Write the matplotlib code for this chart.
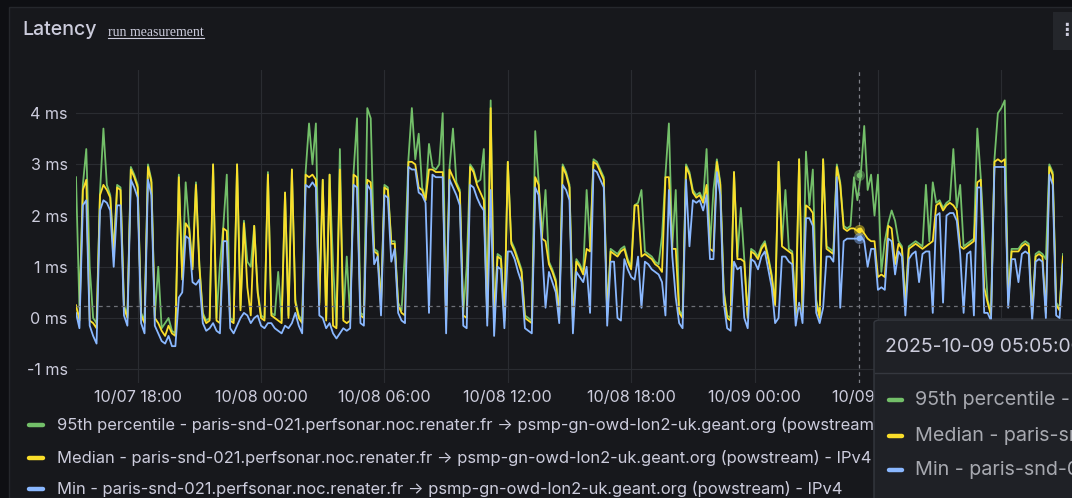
import matplotlib
matplotlib.use("Agg")
import matplotlib.pyplot as plt
import matplotlib.dates as mdates
from matplotlib.patches import FancyBboxPatch, Rectangle
from matplotlib.lines import Line2D
import pandas as pd

# ---------------- data (ms), 10-minute samples from 2025-10-07 15:00 ----------------
start_time = "2025-10-07 15:00"
step = "10min"

median = [
    0.25, -0.05, 2.5, 2.7, -0.05, -0.1, -0.2, 2.4, 2.6, 2.5,
    2.35, 1.2, 2.55, 2.5, 0.2, 0.0, 2.9, 2.75, 2.55, 0.05,
    -0.1, 2.95, 2.65, 0.0, -0.1, -0.25, -0.35, -0.15, -0.3, -0.35,
    2.75, 0.75, 1.85, 1.75, 0.95, 2.6, 1.0, 0.05, -0.1, -0.05,
    3.0, -0.05, -0.1, 1.75, 1.7, -0.05, -0.1, 3.0, 0.15, 1.85,
    0.6, 0.05, 1.8, 0.5, 0.0, -0.05, 2.8,
    0.05, 0.0, -0.05, -0.1, 2.45, 0.0, 2.9, 0.3, 0.0, -0.1,
    2.8, 2.75, 2.8, 2.7, 0.25, 2.7, -0.05, 2.8, -0.15, -0.2,
    2.9, -0.05, -0.1, -0.05, 2.8, 2.75, 0.05, 0.0, 2.7, 2.65,
    1.3, 1.25, 0.25, 2.55, 2.5, 1.45, 1.45, 0.25, 0.1, 0.05,
    3.05, 3.05, 3.0, 2.55, 2.5, 2.3, 2.9, 2.9, 2.85, 2.85,
    2.85, -0.05, 2.9, 2.75, 2.6, 2.45, 0.05, 0.0,
    2.95, 2.85, 2.6, 2.45, 2.3, 0.0, 4.1, -0.1, 1.2, 1.15,
    -0.05, 3.05, 1.45, 1.3, 1.1, 0.9, 0.0, -0.05, -0.1, 2.75,
    2.6, 1.55, 1.5, 1.05, 0.9, 0.7, 0.05, 2.95, 2.8, 2.55,
    -0.1, 1.1, 1.0, 0.85, 1.35, 1.3, 3.05, 3.0, 2.85, 2.7,
    0.05, 1.3, 1.25, 1.2, 1.3, 1.35, 1.1, 0.95, 2.2, 2.2,
    1.2, 1.25, 1.2, 1.15, 1.05, 1.0, 0.9, 2.75,
    2.75, 1.35, 1.35, 0.1, 0.0, 2.95, 2.8, 2.45, 2.35, 2.4,
    2.25, 2.6, 1.35, 1.3, 3.05, 2.6, 0.5, 0.0, -0.05, 2.85,
    1.15, 1.15, 1.1, 0.0, 1.3, 1.25, 1.15, 1.35, 1.45, 1.15,
    0.8, 0.25, 3.05, 1.4, 1.35, 1.3, 1.25, 0.05, 3.1, 0.1,
    2.2, 2.15, 2.05, 0.3, 0.0, 3.1, 1.35, 1.3, 1.25, 2.95,
    2.6, 1.75, 1.7, 1.75, 1.75, 1.7, 1.75, 1.65, 1.55,
    1.5, 1.5, 0.8, 0.85, 0.8, 1.8, 1.75, 1.05, 1.45, 1.35,
    0.25, 1.35, 1.4, 1.45, 1.4, 1.35, 1.4, 1.45, 1.5, 2.2,
    2.25, 2.1, 2.2, 2.25, 2.2, 2.1, 1.4, 1.35, 1.4, 1.45,
    1.5, 2.65, 2.7, 0.6, 0.3, 0.05, 3.05, 3.1, 3.05, 3.1,
    0.3, 1.3, 1.3, 1.3, 1.4, 1.45, 1.4, 0.05, 1.2, 1.25,
    1.2, 0.1, 2.95, 2.8, 0.25, 0.15, 1.2,
]

minimum = [
    0.1, -0.2, 2.2, 2.3, -0.15, -0.35, -0.5, 2.1, 2.3, 2.25,
    2.1, 1.0, 2.2, 2.2, 0.05, -0.15, 2.7, 2.55, 2.35, -0.1,
    -0.3, 2.7, 2.4, -0.15, -0.3, -0.45, -0.5, -0.35, -0.55, -0.55,
    0.4, 0.5, 1.6, 1.55, 0.7, 0.65, 0.75, -0.1, -0.25, -0.2,
    -0.1, -0.25, -0.3, 1.5, 1.5, -0.2, -0.3, -0.15, 0.0, 0.1,
    0.05, -0.1, 0.0, 0.05, -0.15, -0.2, -0.1,
    -0.1, -0.2, -0.25, -0.3, -0.15, -0.2, -0.1, 0.1, -0.15, -0.3,
    2.6, 2.55, 2.65, 2.55, 0.05, 0.0, -0.2, -0.1, -0.3, -0.4,
    -0.3, -0.2, -0.25, -0.2, 2.6, 2.55, -0.1, -0.15, 2.6, 2.5,
    1.05, 1.2, 0.05, 2.4, 2.35, 1.1, 1.35, 0.1, -0.05, -0.1,
    2.95, 2.9, 2.9, 2.45, 2.4, 2.25, 0.1, 2.8, 2.75, 2.75,
    2.75, -0.3, 2.7, 2.55, 2.4, 2.2, -0.15, -0.2,
    2.6, 2.55, 2.35, 2.2, 2.1, -0.15, 2.5, -0.35, 1.0, 0.95,
    -0.2, 1.3, 1.3, 1.15, 0.9, 0.7, -0.2, -0.25, -0.3, 2.55,
    2.4, 1.35, 0.2, 0.9, 0.7, 0.5, -0.1, 2.6, 2.5, 2.3,
    -0.3, 0.9, 0.8, 0.7, 1.0, 0.1, 2.9, 2.85, 2.7, 2.55,
    -0.15, 1.1, 1.1, 0.0, -0.05, 1.15, 0.95, 0.8, 0.75, 1.2,
    0.2, 1.1, 1.05, 0.95, 0.9, 0.85, 0.7, 0.05,
    2.5, 1.2, 0.4, -0.1, -0.2, 2.7, 1.4, 2.3, 2.25, 2.3,
    2.1, 2.4, 1.15, 1.15, 2.85, 2.4, 0.3, -0.2, -0.25, 1.1,
    0.95, 1.0, 0.0, -0.2, 1.15, 1.1, 0.95, 1.2, 1.3, 0.95,
    0.6, -0.1, 0.0, 1.2, 1.2, 1.1, 1.05, -0.15, 0.3, -0.1,
    1.95, 1.95, 1.8, 0.1, -0.1, 0.2, 1.2, 1.2, 1.1, 2.75,
    0.2, 1.5, 1.55, 1.55, 1.55, 1.55, 1.6, 1.5, 1.0,
    1.35, 1.35, 0.55, 0.6, 0.55, 1.55, 1.5, 0.85, 1.3, 1.2,
    0.05, 1.15, 1.25, 1.3, 0.7, 1.25, 1.3, 1.3, 0.1, 2.0,
    2.05, 0.3, 2.0, 2.05, 2.05, 1.9, 1.25, 0.1, 1.25, 1.3,
    0.05, 2.55, 2.55, 0.1, 0.1, -0.05, 2.95, 2.95, 2.95, 2.95,
    0.2, 1.15, 1.15, 0.7, 1.25, 1.3, 1.25, -0.05, 1.1, 1.15,
    1.1, 0.0, 2.8, 2.6, 0.05, 0.0, 1.05,
]

p95 = [
    2.75, 0.2, 2.6, 3.3, 1.0, 0.0, -0.1, 2.45, 3.7, 2.6,
    2.4, 1.3, 2.6, 2.55, 0.25, 0.05, 2.95, 2.8, 2.6, 0.1,
    -0.05, 3.0, 2.7, 0.05, 1.0, -0.2, -0.1, 0.0, -0.25, -0.3,
    2.8, 0.8, 2.65, 1.8, 1.0, 2.65, 1.05, 0.1, -0.05, 0.0,
    3.0, 0.0, 1.05, 1.8, 2.8, 0.0, -0.05, 3.0, 0.2, 1.9,
    1.1, 1.0, 1.8, 0.55, 0.05, 0.0, 2.85,
    0.1, 0.05, 0.9, -0.05, 2.45, 0.05, 2.9, 0.35, 0.05, -0.05,
    2.85, 3.8, 3.0, 3.8, 0.3, 2.7, 0.0, 2.8, 1.05, -0.15,
    3.3, 0.0, 1.2, 0.0, 2.85, 3.9, 0.1, 0.05, 4.1, 3.9,
    1.35, 1.3, 0.3, 2.6, 2.55, 1.5, 1.5, 0.3, 0.15, 1.3,
    3.1, 4.1, 3.1, 3.6, 2.55, 2.35, 3.4, 2.95, 2.9, 3.0,
    4.0, 0.0, 2.95, 3.7, 2.65, 2.5, 0.1, 1.0,
    3.0, 2.9, 2.65, 2.7, 3.3, 0.05, 4.25, -0.05, 1.25, 1.2,
    0.0, 3.05, 1.5, 1.35, 1.15, 0.95, 0.05, 0.0, -0.05, 3.65,
    2.65, 1.6, 2.5, 1.1, 0.95, 0.75, 0.1, 3.0, 2.85, 2.6,
    -0.05, 1.15, 1.05, 0.9, 2.5, 1.4, 3.1, 3.05, 2.9, 2.75,
    0.1, 1.35, 1.3, 1.25, 1.35, 1.4, 1.15, 1.0, 2.2, 2.25,
    2.5, 1.3, 1.25, 1.2, 1.1, 1.05, 1.6, 2.8,
    3.8, 1.4, 2.5, 0.15, 0.05, 3.0, 2.85, 2.5, 2.4, 2.45,
    2.3, 3.3, 1.4, 2.5, 3.1, 2.65, 0.55, 0.05, 0.0, 2.85,
    1.2, 2.15, 1.15, 0.05, 1.35, 1.3, 1.2, 1.4, 1.5, 1.2,
    0.85, 0.3, 3.05, 1.45, 2.5, 1.35, 1.3, 0.1, 3.1, 0.15,
    3.25, 2.2, 2.9, 0.35, 0.05, 3.1, 1.4, 1.35, 1.3, 3.0,
    2.65, 1.8, 1.75, 1.8, 2.75, 2.3, 2.8, 3.75, 2.5,
    2.8, 2.0, 2.8, 0.9, 1.5, 1.85, 2.1, 1.9, 1.5, 1.4,
    0.3, 1.4, 1.45, 1.5, 1.45, 1.4, 2.6, 1.5, 2.65, 2.25,
    2.3, 2.15, 2.25, 2.3, 3.3, 2.15, 2.6, 1.4, 1.45, 1.5,
    1.55, 3.7, 2.75, 1.5, 0.35, 0.1, 3.1, 4.0, 4.1, 4.25,
    0.35, 1.35, 1.35, 1.35, 1.45, 1.5, 1.45, 0.1, 1.25, 1.3,
    1.25, 1.15, 3.0, 2.85, 0.3, 0.2, 1.25,
]

series_names = [
    "95th percentile - paris-snd-021.perfsonar.noc.renater.fr \u2192 psmp-gn-owd-lon2-uk.geant.org (powstream) - IPv4",
    "Median - paris-snd-021.perfsonar.noc.renater.fr \u2192 psmp-gn-owd-lon2-uk.geant.org (powstream) - IPv4",
    "Min - paris-snd-021.perfsonar.noc.renater.fr \u2192 psmp-gn-owd-lon2-uk.geant.org (powstream) - IPv4",
]
tooltip_names = ["95th percentile - paris-snd-021", "Median - paris-snd-021", "Min - paris-snd-021"]
y_ticks = [-1, 0, 1, 2, 3, 4]
y_tick_labels = ["-1 ms", "0 ms", "1 ms", "2 ms", "3 ms", "4 ms"]
hover_time = "2025-10-09 05:05"
hover_label = "2025-10-09 05:05:00"
hover_values = [2.79, 1.72, 1.57]
crosshair_value = 0.23

# ---------------- style ----------------
W, H = 1072, 498
BG_OUT = "#0e0f13"
BG = "#17181c"
TXT = "#ccccdc"
GRID = "#2a2c31"
colors = ["#73bf69", "#fade2a", "#8ab8ff"]
FONT = ["Inter", "DejaVu Sans"]

plt.rcParams["font.family"] = FONT

times = pd.date_range(start_time, periods=len(median), freq=step)

fig = plt.figure(figsize=(W / 100, H / 100), dpi=100, facecolor=BG_OUT)

def fx(x):
    return x / W

def fy(y):
    return 1 - y / H

# panel
fig.patches.append(Rectangle((fx(9), 0), 1, fy(7), transform=fig.transFigure,
                             facecolor=BG, edgecolor="#25272c", lw=1.0, zorder=-5))

ax_l, ax_r, ax_t, ax_b = 76, 1063, 70, 383
ax = fig.add_axes([fx(ax_l), fy(ax_b), fx(ax_r - ax_l), (ax_b - ax_t) / H])
ax.set_zorder(1)
ax.set_facecolor("none")
for s in ax.spines.values():
    s.set_visible(False)

series = [p95, median, minimum]
for vals, c in zip(series, colors):
    ax.plot(times, vals, color=c, lw=1.3, zorder=3)

ax.set_xlim(times[0], times[-1])
ax.set_ylim((318 - ax_b) / 51.2, (318 - ax_t) / 51.2)
ax.set_yticks(y_ticks)
ax.set_yticklabels(y_tick_labels)
ax.xaxis.set_major_locator(mdates.HourLocator(byhour=[0, 6, 12, 18]))
ax.xaxis.set_major_formatter(mdates.DateFormatter("%m/%d %H:%M"))
ax.tick_params(axis="both", length=0, colors=TXT, labelsize=11.6)
ax.tick_params(axis="y", pad=6)
ax.tick_params(axis="x", pad=5)
ax.grid(True, color=GRID, lw=0.8, zorder=0)

# crosshair
ht = pd.Timestamp(hover_time)
ax.axvline(ht, color="#7d7f86", lw=0.9, ls=(0, (3, 3)), zorder=4)
ax.axhline(crosshair_value, color="#6e7077", lw=0.9, ls=(0, (3, 3)), zorder=4)
for v, c in zip(hover_values, colors):
    ax.plot([ht], [v], "o", ms=8, color=c, alpha=0.45, mec="none", zorder=5)
    ax.plot([ht], [v], "o", ms=4, color=c, mec="none", zorder=6)

# title
fig.text(fx(22), fy(30), "Latency", fontsize=14.1, color=TXT, va="center", ha="left", fontweight="medium")
link = fig.text(fx(108), fy(33), "run measurement", fontsize=9.9, color=TXT, va="center", ha="left",
                family=["Liberation Serif", "DejaVu Serif"])
fig.canvas.draw()
bb = link.get_window_extent(fig.canvas.get_renderer())
fig.lines.append(Line2D([bb.x0 / W, bb.x1 / W], [bb.y0 / H + 1.0 / H, bb.y0 / H + 1.0 / H],
                        transform=fig.transFigure, color=TXT, lw=0.8))

# menu icon
fig.patches.append(Rectangle((fx(1053), fy(50)), fx(30), 38 / H, transform=fig.transFigure,
                             facecolor="#24262b", edgecolor="none", zorder=2))
fig.text(fx(1066), fy(30), "\u22ee", fontsize=12, color=TXT, va="center", ha="center",
         family=["DejaVu Sans"], fontweight="bold", zorder=3)

# legend
leg_rows = [425, 458, 489]
for y, c, name in zip(leg_rows, colors, series_names):
    fig.lines.append(Line2D([fx(29), fx(43)], [fy(y), fy(y)], transform=fig.transFigure,
                            color=c, lw=3.2, solid_capstyle="round", zorder=2))
    fig.text(fx(57), fy(y), name, fontsize=11.9, color=TXT, va="center", ha="left", zorder=2)

# tooltip
tip = FancyBboxPatch((fx(874), fy(520)), fx(260), 200 / H, transform=fig.transFigure,
                     boxstyle="round,pad=0,rounding_size=0.006", facecolor="#1f2126",
                     edgecolor="#35383f", lw=1.0, zorder=10)
fig.patches.append(tip)
fig.lines.append(Line2D([fx(875), 1], [fy(373), fy(373)], transform=fig.transFigure,
                        color="#35383f", lw=1.0, zorder=11))
fig.text(fx(885), fy(347), hover_label, fontsize=13.9, color=TXT, va="center", ha="left", zorder=12)
tip_rows = [400, 436, 470]
for y, c, name in zip(tip_rows, colors, tooltip_names):
    fig.lines.append(Line2D([fx(889), fx(902)], [fy(y), fy(y)], transform=fig.transFigure,
                            color=c, lw=3.2, solid_capstyle="round", zorder=12))
    fig.text(fx(915), fy(y), name, fontsize=14.2, color="#a7a9b0", va="center", ha="left", zorder=12)

fig.savefig("out.png", dpi=100, facecolor=BG_OUT)
